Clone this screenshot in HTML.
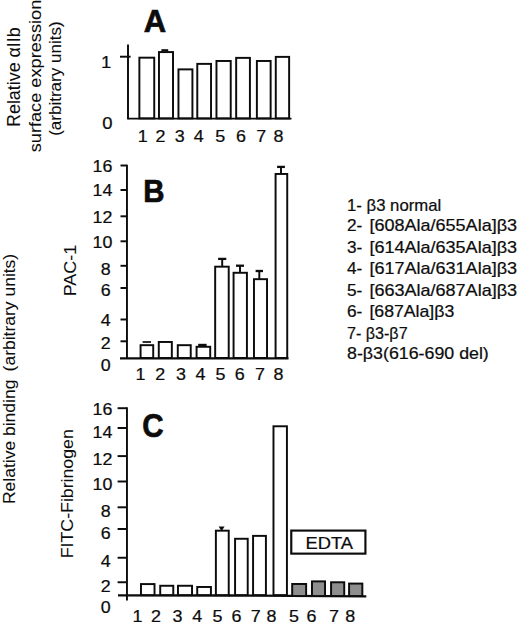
<!DOCTYPE html>
<html lang="en"><head><meta charset="utf-8"><title>Figure</title>
<style>
html,body{margin:0;padding:0;background:#fff;}
body{width:520px;height:624px;overflow:hidden;}
svg{display:block;}
svg text{font-family:"Liberation Sans", Arial, Helvetica, sans-serif;fill:#0c0c0c;stroke:#0c0c0c;stroke-width:.22px;}
svg text.r{stroke-width:.06px;}
svg text[font-weight=bold]{stroke-width:.7px;}
</style></head><body>
<svg width="520" height="624" viewBox="0 0 520 624">
<rect x="0" y="0" width="520" height="624" fill="#fff"/>
<rect x="139.38" y="57.68" width="14.85" height="60.70" fill="#fff" stroke="#0c0c0c" stroke-width="1.95"/>
<rect x="158.97" y="52.08" width="14.05" height="66.30" fill="#fff" stroke="#0c0c0c" stroke-width="1.95"/>
<rect x="178.47" y="69.38" width="13.95" height="49.00" fill="#fff" stroke="#0c0c0c" stroke-width="1.95"/>
<rect x="197.28" y="63.88" width="13.75" height="54.50" fill="#fff" stroke="#0c0c0c" stroke-width="1.95"/>
<rect x="216.47" y="60.98" width="14.25" height="57.40" fill="#fff" stroke="#0c0c0c" stroke-width="1.95"/>
<rect x="236.17" y="57.88" width="13.75" height="60.50" fill="#fff" stroke="#0c0c0c" stroke-width="1.95"/>
<rect x="256.88" y="60.98" width="13.75" height="57.40" fill="#fff" stroke="#0c0c0c" stroke-width="1.95"/>
<rect x="275.78" y="56.88" width="13.35" height="61.50" fill="#fff" stroke="#0c0c0c" stroke-width="1.95"/>
<line x1="161.40" y1="50.30" x2="168.20" y2="50.30" stroke="#0c0c0c" stroke-width="2.2"/>
<line x1="128.00" y1="44.50" x2="128.00" y2="119.35" stroke="#0c0c0c" stroke-width="1.95"/>
<line x1="127.50" y1="118.60" x2="291.50" y2="118.60" stroke="#0c0c0c" stroke-width="1.95"/>
<line x1="120.00" y1="56.70" x2="130.60" y2="56.70" stroke="#0c0c0c" stroke-width="1.95"/>
<text transform="translate(106.2 68.0) scale(1.12 1)" x="0" y="0" font-size="16.5" text-anchor="middle">1</text>
<text transform="translate(107.4 129.3) scale(1.12 1)" x="0" y="0" font-size="16.5" text-anchor="middle">0</text>
<text transform="translate(142.8 141.8) scale(1.12 1)" x="0" y="0" font-size="16" text-anchor="middle">1</text>
<text transform="translate(160.4 141.8) scale(1.12 1)" x="0" y="0" font-size="16" text-anchor="middle">2</text>
<text transform="translate(179.8 141.8) scale(1.12 1)" x="0" y="0" font-size="16" text-anchor="middle">3</text>
<text transform="translate(198.8 141.8) scale(1.12 1)" x="0" y="0" font-size="16" text-anchor="middle">4</text>
<text transform="translate(220.2 141.8) scale(1.12 1)" x="0" y="0" font-size="16" text-anchor="middle">5</text>
<text transform="translate(241.1 141.8) scale(1.12 1)" x="0" y="0" font-size="16" text-anchor="middle">6</text>
<text transform="translate(261.2 141.8) scale(1.12 1)" x="0" y="0" font-size="16" text-anchor="middle">7</text>
<text transform="translate(278.4 141.8) scale(1.12 1)" x="0" y="0" font-size="16" text-anchor="middle">8</text>
<text transform="translate(154.9 31.5) scale(1.0 1)" x="0" y="0" font-size="31" text-anchor="middle" font-weight="bold">A</text>
<text x="19.9" y="126.9" font-size="18" text-anchor="start" textLength="99.6" lengthAdjust="spacingAndGlyphs" class="r" transform="rotate(-90 19.9 126.9)">Relative αIIb</text>
<text x="40.9" y="152.3" font-size="16.3" text-anchor="start" textLength="152.6" lengthAdjust="spacingAndGlyphs" class="r" transform="rotate(-90 40.9 152.3)">surface expression</text>
<text x="61.3" y="135.8" font-size="15.6" text-anchor="start" textLength="114.4" lengthAdjust="spacingAndGlyphs" class="r" transform="rotate(-90 61.3 135.8)">(arbitrary units)</text>
<line x1="126.95" y1="164.75" x2="126.95" y2="358.95" stroke="#0c0c0c" stroke-width="1.95"/>
<line x1="120.00" y1="358.30" x2="288.50" y2="358.30" stroke="#0c0c0c" stroke-width="2.3"/>
<line x1="120.50" y1="165.50" x2="126.95" y2="165.50" stroke="#0c0c0c" stroke-width="1.95"/>
<line x1="120.50" y1="190.00" x2="126.95" y2="190.00" stroke="#0c0c0c" stroke-width="1.95"/>
<line x1="120.50" y1="216.30" x2="126.95" y2="216.30" stroke="#0c0c0c" stroke-width="1.95"/>
<line x1="120.50" y1="241.30" x2="126.95" y2="241.30" stroke="#0c0c0c" stroke-width="1.95"/>
<line x1="120.50" y1="265.80" x2="126.95" y2="265.80" stroke="#0c0c0c" stroke-width="1.95"/>
<line x1="120.50" y1="288.00" x2="126.95" y2="288.00" stroke="#0c0c0c" stroke-width="1.95"/>
<line x1="120.50" y1="319.50" x2="126.95" y2="319.50" stroke="#0c0c0c" stroke-width="1.95"/>
<line x1="120.50" y1="341.30" x2="126.95" y2="341.30" stroke="#0c0c0c" stroke-width="1.95"/>
<text transform="translate(112.3 171.8) scale(1.1 1)" x="0" y="0" font-size="16.2" text-anchor="end">16</text>
<text transform="translate(112.3 196.3) scale(1.1 1)" x="0" y="0" font-size="16.2" text-anchor="end">14</text>
<text transform="translate(112.3 223) scale(1.1 1)" x="0" y="0" font-size="16.2" text-anchor="end">12</text>
<text transform="translate(112.3 248) scale(1.1 1)" x="0" y="0" font-size="16.2" text-anchor="end">10</text>
<text transform="translate(110.6 274.5) scale(1.1 1)" x="0" y="0" font-size="16.2" text-anchor="end">8</text>
<text transform="translate(110.6 296) scale(1.1 1)" x="0" y="0" font-size="16.2" text-anchor="end">6</text>
<text transform="translate(110.6 326.3) scale(1.1 1)" x="0" y="0" font-size="16.2" text-anchor="end">4</text>
<text transform="translate(110.6 349) scale(1.1 1)" x="0" y="0" font-size="16.2" text-anchor="end">2</text>
<text transform="translate(110.6 371.3) scale(1.1 1)" x="0" y="0" font-size="16.2" text-anchor="end">0</text>
<rect x="140.57" y="345.18" width="12.65" height="12.80" fill="#fff" stroke="#0c0c0c" stroke-width="1.95"/>
<rect x="158.78" y="341.98" width="13.05" height="16.00" fill="#fff" stroke="#0c0c0c" stroke-width="1.95"/>
<rect x="177.78" y="345.18" width="12.95" height="12.80" fill="#fff" stroke="#0c0c0c" stroke-width="1.95"/>
<rect x="196.57" y="346.78" width="13.65" height="11.20" fill="#fff" stroke="#0c0c0c" stroke-width="1.95"/>
<rect x="215.17" y="266.68" width="13.55" height="91.30" fill="#fff" stroke="#0c0c0c" stroke-width="1.95"/>
<rect x="233.57" y="272.78" width="13.35" height="85.20" fill="#fff" stroke="#0c0c0c" stroke-width="1.95"/>
<rect x="253.97" y="279.18" width="13.05" height="78.80" fill="#fff" stroke="#0c0c0c" stroke-width="1.95"/>
<rect x="275.58" y="173.97" width="11.65" height="184.00" fill="#fff" stroke="#0c0c0c" stroke-width="1.95"/>
<line x1="142.60" y1="342.00" x2="151.00" y2="342.00" stroke="#0c0c0c" stroke-width="1.7"/>
<line x1="198.20" y1="345.00" x2="206.60" y2="345.00" stroke="#0c0c0c" stroke-width="2.4"/>
<line x1="222.20" y1="266.20" x2="222.20" y2="258.90" stroke="#0c0c0c" stroke-width="1.95"/>
<line x1="218.10" y1="258.90" x2="226.30" y2="258.90" stroke="#0c0c0c" stroke-width="2.3"/>
<line x1="240.00" y1="272.20" x2="240.00" y2="265.70" stroke="#0c0c0c" stroke-width="1.95"/>
<line x1="236.00" y1="265.70" x2="244.00" y2="265.70" stroke="#0c0c0c" stroke-width="2.3"/>
<line x1="259.30" y1="278.90" x2="259.30" y2="271.00" stroke="#0c0c0c" stroke-width="1.95"/>
<line x1="255.60" y1="271.00" x2="263.00" y2="271.00" stroke="#0c0c0c" stroke-width="2.3"/>
<line x1="281.00" y1="173.75" x2="281.00" y2="166.90" stroke="#0c0c0c" stroke-width="1.95"/>
<line x1="277.10" y1="166.90" x2="284.90" y2="166.90" stroke="#0c0c0c" stroke-width="2.3"/>
<text transform="translate(140.6 380) scale(1.12 1)" x="0" y="0" font-size="16" text-anchor="middle">1</text>
<text transform="translate(160.3 380) scale(1.12 1)" x="0" y="0" font-size="16" text-anchor="middle">2</text>
<text transform="translate(180.9 380) scale(1.12 1)" x="0" y="0" font-size="16" text-anchor="middle">3</text>
<text transform="translate(200.5 380) scale(1.12 1)" x="0" y="0" font-size="16" text-anchor="middle">4</text>
<text transform="translate(220.4 380) scale(1.12 1)" x="0" y="0" font-size="16" text-anchor="middle">5</text>
<text transform="translate(239.8 380) scale(1.12 1)" x="0" y="0" font-size="16" text-anchor="middle">6</text>
<text transform="translate(260 380) scale(1.12 1)" x="0" y="0" font-size="16" text-anchor="middle">7</text>
<text transform="translate(278.4 380) scale(1.12 1)" x="0" y="0" font-size="16" text-anchor="middle">8</text>
<text transform="translate(153.9 201.6) scale(0.95 1)" x="0" y="0" font-size="31" text-anchor="middle" font-weight="bold">B</text>
<text x="76.2" y="296.3" font-size="16.6" text-anchor="start" textLength="51.6" lengthAdjust="spacingAndGlyphs" class="r" transform="rotate(-90 76.2 296.3)">PAC-1</text>
<text x="14.8" y="504.1" font-size="16.6" text-anchor="start" textLength="124.5" lengthAdjust="spacingAndGlyphs" class="r" transform="rotate(-90 14.8 504.1)">Relative binding</text>
<text x="14.8" y="371.4" font-size="15.8" text-anchor="start" textLength="117.6" lengthAdjust="spacingAndGlyphs" class="r" transform="rotate(-90 14.8 371.4)">(arbitrary units)</text>
<line x1="126.95" y1="407.30" x2="126.95" y2="600.50" stroke="#0c0c0c" stroke-width="1.95"/>
<line x1="118.00" y1="595.30" x2="230.00" y2="595.50" stroke="#0c0c0c" stroke-width="2.3"/>
<line x1="229.00" y1="595.50" x2="366.30" y2="596.30" stroke="#0c0c0c" stroke-width="2.3"/>
<line x1="117.60" y1="408.20" x2="126.95" y2="408.20" stroke="#0c0c0c" stroke-width="1.95"/>
<line x1="117.60" y1="428.00" x2="126.95" y2="428.00" stroke="#0c0c0c" stroke-width="1.95"/>
<line x1="117.60" y1="456.10" x2="126.95" y2="456.10" stroke="#0c0c0c" stroke-width="1.95"/>
<line x1="117.60" y1="481.50" x2="126.95" y2="481.50" stroke="#0c0c0c" stroke-width="1.95"/>
<line x1="117.60" y1="507.30" x2="126.95" y2="507.30" stroke="#0c0c0c" stroke-width="1.95"/>
<line x1="117.60" y1="529.00" x2="126.95" y2="529.00" stroke="#0c0c0c" stroke-width="1.95"/>
<line x1="117.60" y1="557.75" x2="126.95" y2="557.75" stroke="#0c0c0c" stroke-width="1.95"/>
<line x1="117.60" y1="582.25" x2="126.95" y2="582.25" stroke="#0c0c0c" stroke-width="1.95"/>
<text transform="translate(112.3 414.7) scale(1.1 1)" x="0" y="0" font-size="16.2" text-anchor="end">16</text>
<text transform="translate(112.3 438.1) scale(1.1 1)" x="0" y="0" font-size="16.2" text-anchor="end">14</text>
<text transform="translate(112.3 465.2) scale(1.1 1)" x="0" y="0" font-size="16.2" text-anchor="end">12</text>
<text transform="translate(112.3 489.8) scale(1.1 1)" x="0" y="0" font-size="16.2" text-anchor="end">10</text>
<text transform="translate(110.6 517) scale(1.1 1)" x="0" y="0" font-size="16.2" text-anchor="end">8</text>
<text transform="translate(110.6 539) scale(1.1 1)" x="0" y="0" font-size="16.2" text-anchor="end">6</text>
<text transform="translate(110.6 567) scale(1.1 1)" x="0" y="0" font-size="16.2" text-anchor="end">4</text>
<text transform="translate(110.6 591.6) scale(1.1 1)" x="0" y="0" font-size="16.2" text-anchor="end">2</text>
<text transform="translate(110.6 612.8) scale(1.1 1)" x="0" y="0" font-size="16.2" text-anchor="end">0</text>
<rect x="140.97" y="584.08" width="13.55" height="11.00" fill="#fff" stroke="#0c0c0c" stroke-width="1.95"/>
<rect x="160.22" y="585.77" width="13.05" height="9.30" fill="#fff" stroke="#0c0c0c" stroke-width="1.95"/>
<rect x="177.97" y="585.77" width="14.05" height="9.30" fill="#fff" stroke="#0c0c0c" stroke-width="1.95"/>
<rect x="197.22" y="586.98" width="13.70" height="8.10" fill="#fff" stroke="#0c0c0c" stroke-width="1.95"/>
<rect x="215.88" y="530.68" width="12.85" height="64.40" fill="#fff" stroke="#0c0c0c" stroke-width="1.95"/>
<rect x="235.07" y="538.77" width="12.65" height="56.30" fill="#fff" stroke="#0c0c0c" stroke-width="1.95"/>
<rect x="253.07" y="535.88" width="12.85" height="59.20" fill="#fff" stroke="#0c0c0c" stroke-width="1.95"/>
<rect x="273.48" y="426.28" width="13.45" height="168.80" fill="#fff" stroke="#0c0c0c" stroke-width="1.95"/>
<polygon points="218.6,526.6 224.6,526.6 222.4,529.9 220.8,529.9" fill="#0c0c0c"/>
<rect x="292.18" y="583.98" width="13.95" height="12.05" fill="#8e8e8e" stroke="#0c0c0c" stroke-width="1.95"/>
<rect x="311.98" y="581.38" width="13.05" height="14.65" fill="#8e8e8e" stroke="#0c0c0c" stroke-width="1.95"/>
<rect x="331.08" y="582.27" width="13.15" height="13.75" fill="#8e8e8e" stroke="#0c0c0c" stroke-width="1.95"/>
<rect x="349.08" y="583.58" width="13.25" height="12.45" fill="#8e8e8e" stroke="#0c0c0c" stroke-width="1.95"/>
<rect x="291.27" y="530.58" width="74.15" height="23.05" fill="#fff" stroke="#0c0c0c" stroke-width="2.15"/>
<text x="329.3" y="548.9" font-size="16.8" text-anchor="middle" textLength="47.5" lengthAdjust="spacingAndGlyphs">EDTA</text>
<text transform="translate(137.5 622) scale(1.12 1)" x="0" y="0" font-size="16" text-anchor="middle">1</text>
<text transform="translate(156 622) scale(1.12 1)" x="0" y="0" font-size="16" text-anchor="middle">2</text>
<text transform="translate(177.5 622) scale(1.12 1)" x="0" y="0" font-size="16" text-anchor="middle">3</text>
<text transform="translate(197.2 622) scale(1.12 1)" x="0" y="0" font-size="16" text-anchor="middle">4</text>
<text transform="translate(217.5 622) scale(1.12 1)" x="0" y="0" font-size="16" text-anchor="middle">5</text>
<text transform="translate(236.6 622) scale(1.12 1)" x="0" y="0" font-size="16" text-anchor="middle">6</text>
<text transform="translate(255.7 622) scale(1.12 1)" x="0" y="0" font-size="16" text-anchor="middle">7</text>
<text transform="translate(271.6 622) scale(1.12 1)" x="0" y="0" font-size="16" text-anchor="middle">8</text>
<text transform="translate(294 622) scale(1.12 1)" x="0" y="0" font-size="16" text-anchor="middle">5</text>
<text transform="translate(311.4 622) scale(1.12 1)" x="0" y="0" font-size="16" text-anchor="middle">6</text>
<text transform="translate(334.1 622) scale(1.12 1)" x="0" y="0" font-size="16" text-anchor="middle">7</text>
<text transform="translate(350.3 622) scale(1.12 1)" x="0" y="0" font-size="16" text-anchor="middle">8</text>
<text transform="translate(153.0 437.4) scale(0.89 1)" x="0" y="0" font-size="33.2" text-anchor="middle" font-weight="bold">C</text>
<text x="73.4" y="558.2" font-size="16.4" text-anchor="start" textLength="129" lengthAdjust="spacingAndGlyphs" class="r" transform="rotate(-90 73.4 558.2)">FITC-Fibrinogen</text>
<text x="347" y="210.7" font-size="16.1" text-anchor="start" textLength="94.2" lengthAdjust="spacingAndGlyphs">1- β3 normal</text>
<text transform="translate(347 231.4) scale(1.07 1)" x="0" y="0" font-size="16.1" text-anchor="start">2-</text>
<text x="369.4" y="231.4" font-size="16.1" text-anchor="start" textLength="147.7" lengthAdjust="spacingAndGlyphs">[608Ala/655Ala]β3</text>
<text transform="translate(347 252.8) scale(1.07 1)" x="0" y="0" font-size="16.1" text-anchor="start">3-</text>
<text x="369.4" y="252.8" font-size="16.1" text-anchor="start" textLength="147.7" lengthAdjust="spacingAndGlyphs">[614Ala/635Ala]β3</text>
<text transform="translate(347 273.9) scale(1.07 1)" x="0" y="0" font-size="16.1" text-anchor="start">4-</text>
<text x="369.4" y="273.9" font-size="16.1" text-anchor="start" textLength="147.7" lengthAdjust="spacingAndGlyphs">[617Ala/631Ala]β3</text>
<text transform="translate(347 295.6) scale(1.07 1)" x="0" y="0" font-size="16.1" text-anchor="start">5-</text>
<text x="369.4" y="295.6" font-size="16.1" text-anchor="start" textLength="147.7" lengthAdjust="spacingAndGlyphs">[663Ala/687Ala]β3</text>
<text transform="translate(347 317.0) scale(1.07 1)" x="0" y="0" font-size="16.1" text-anchor="start">6-</text>
<text x="369.4" y="317.0" font-size="16.1" text-anchor="start" textLength="84.9" lengthAdjust="spacingAndGlyphs">[687Ala]β3</text>
<text x="347" y="339.0" font-size="16.1" text-anchor="start" textLength="60.6" lengthAdjust="spacingAndGlyphs">7- β3-β7</text>
<text x="347" y="359.3" font-size="16.1" text-anchor="start" textLength="141.8" lengthAdjust="spacingAndGlyphs">8-β3(616-690 del)</text>
</svg>
</body></html>
